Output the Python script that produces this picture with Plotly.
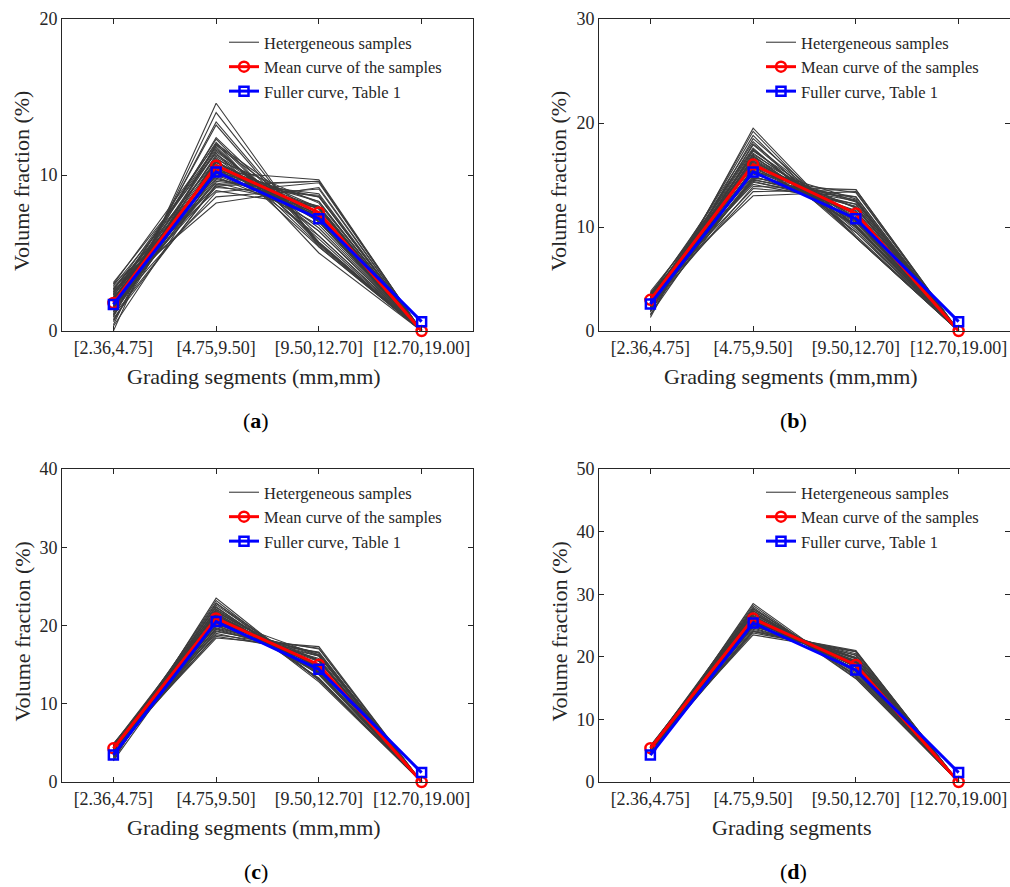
import plotly.graph_objects as go

categories = ["[2.36,4.75]", "[4.75,9.50]", "[9.50,12.70]", "[12.70,19.00]"]
xpos = [0, 1, 2, 3]

# ---------- panel (a) ----------
samples_a = [
    [0.0, 14.6, 5.4, 0], [0.4, 14.0, 5.6, 0], [0.9, 13.4, 5.7, 0], [1.2, 13.2, 5.6, 0],
    [1.5, 12.4, 6.1, 0], [2.2, 12.1, 5.7, 0], [1.0, 11.9, 7.0, 0], [2.6, 11.8, 5.5, 0],
    [1.9, 11.6, 6.4, 0], [3.1, 11.4, 5.4, 0], [1.4, 11.3, 7.2, 0], [2.4, 11.1, 6.4, 0],
    [0.7, 11.0, 8.2, 0], [2.9, 10.9, 6.1, 0], [1.7, 10.8, 7.4, 0], [2.1, 10.6, 7.2, 0],
    [1.1, 10.5, 8.3, 0], [2.7, 10.4, 6.8, 0], [1.8, 10.3, 7.8, 0], [2.3, 10.1, 7.5, 0],
    [1.3, 10.0, 8.6, 0], [2.8, 9.9, 7.2, 0], [1.6, 9.7, 8.6, 0], [2.5, 9.5, 7.9, 0],
    [0.8, 9.4, 9.6, 0], [2.0, 9.2, 8.7, 0], [3.0, 9.0, 7.9, 0], [1.5, 8.9, 9.5, 0],
    [2.2, 8.6, 9.1, 0], [2.6, 8.2, 9.2, 0], [3.0, 12.0, 5.0, 0], [0.3, 10.2, 9.7, 0],
    [1.9, 10.7, 7.3, 0], [1.6, 10.4, 7.9, 0], [2.0, 10.9, 7.0, 0], [1.7, 11.2, 7.0, 0],
    [2.3, 10.5, 7.1, 0], [1.4, 10.2, 8.3, 0], [2.1, 9.8, 8.0, 0], [1.8, 11.5, 6.6, 0],
    [2.5, 10.0, 7.4, 0], [1.2, 10.8, 7.9, 0], [2.4, 11.7, 5.9, 0], [1.5, 9.6, 8.8, 0],
    [2.0, 12.3, 5.6, 0], [0.6, 12.0, 7.3, 0], [2.7, 9.3, 8.0, 0], [1.0, 9.3, 9.6, 0],
]
mean_a = [1.8, 10.6, 7.6, 0.0]
fuller_a = [1.7, 10.2, 7.2, 0.6]

# ---------- panel (b) ----------
samples_b = [
    [1.3, 19.5, 9.2, 0], [1.8, 19.2, 9.0, 0], [2.2, 18.8, 9.0, 0], [1.5, 18.5, 10.0, 0],
    [2.9, 18.2, 9.0, 0], [2.4, 17.9, 9.7, 0], [3.4, 17.6, 9.0, 0], [1.9, 17.3, 10.8, 0],
    [2.7, 17.1, 10.2, 0], [3.6, 16.9, 9.5, 0], [2.1, 16.7, 11.2, 0], [3.1, 16.5, 10.4, 0],
    [2.5, 16.3, 11.2, 0], [3.8, 16.1, 10.1, 0], [2.8, 15.9, 11.3, 0], [1.6, 15.7, 12.7, 0],
    [3.3, 15.5, 11.2, 0], [2.3, 15.3, 12.4, 0], [3.0, 15.1, 11.9, 0], [3.5, 14.9, 11.6, 0],
    [2.0, 14.7, 13.3, 0], [2.6, 14.5, 12.9, 0], [3.2, 14.3, 12.5, 0], [3.7, 14.1, 12.2, 0],
    [2.4, 13.9, 13.6, 0], [3.4, 13.7, 12.9, 0], [2.9, 13.4, 13.6, 0], [3.6, 13.0, 13.4, 0],
    [2.2, 16.0, 11.8, 0], [3.0, 17.5, 9.5, 0],
    [2.8, 16.2, 11.0, 0], [2.5, 15.6, 11.9, 0], [3.1, 16.8, 10.1, 0], [2.3, 17.0, 10.7, 0],
    [3.3, 15.2, 11.5, 0], [2.6, 14.8, 12.6, 0], [3.0, 16.4, 10.6, 0], [2.1, 15.4, 12.5, 0],
    [3.5, 15.8, 10.7, 0], [2.7, 17.4, 9.9, 0], [3.2, 14.6, 12.2, 0], [1.9, 18.0, 10.1, 0],
    [3.6, 14.4, 12.0, 0], [2.9, 16.6, 10.5, 0],
]
mean_b = [3.0, 16.0, 11.3, 0.0]
fuller_b = [2.6, 15.3, 10.8, 0.9]

# ---------- panel (c) ----------
samples_c = [
    [2.8, 23.5, 13.1, 0], [3.3, 23.2, 13.0, 0], [3.9, 22.9, 12.8, 0], [3.0, 22.6, 13.9, 0],
    [4.4, 22.4, 13.2, 0], [3.5, 22.1, 14.0, 0], [4.8, 21.9, 13.3, 0], [3.1, 21.7, 14.8, 0],
    [4.1, 21.5, 14.2, 0], [3.7, 21.3, 14.7, 0], [4.6, 21.1, 14.1, 0], [3.2, 20.9, 15.6, 0],
    [4.2, 20.7, 14.9, 0], [3.8, 20.5, 15.5, 0], [4.9, 20.3, 14.6, 0], [3.4, 20.1, 16.3, 0],
    [4.3, 19.9, 15.6, 0], [3.6, 19.7, 16.5, 0], [4.5, 19.5, 15.8, 0], [4.0, 19.3, 16.5, 0],
    [4.7, 19.0, 16.1, 0], [3.9, 18.8, 17.1, 0], [4.6, 18.6, 16.6, 0], [4.4, 18.4, 17.3, 0],
    [2.7, 21.0, 16.2, 0], [4.1, 22.0, 13.9, 0],
    [4.2, 21.2, 14.6, 0], [3.9, 20.6, 15.5, 0], [4.4, 20.8, 14.8, 0], [3.7, 21.8, 14.5, 0],
    [4.6, 20.0, 15.4, 0], [4.0, 22.3, 13.7, 0], [3.5, 20.4, 16.1, 0], [4.8, 21.4, 13.8, 0],
    [4.3, 19.6, 16.1, 0], [3.3, 22.8, 13.9, 0], [4.5, 21.6, 13.9, 0], [3.8, 19.2, 17.0, 0],
]
mean_c = [4.3, 20.9, 15.0, 0.0]
fuller_c = [3.45, 20.5, 14.4, 1.2]

# ---------- panel (d) ----------
samples_d = [
    [4.6, 28.5, 16.8, 0], [5.0, 28.2, 16.6, 0], [5.5, 27.9, 16.5, 0], [4.7, 27.6, 17.6, 0],
    [5.2, 27.3, 17.4, 0], [5.7, 27.0, 17.2, 0], [4.8, 26.8, 18.3, 0], [5.3, 26.6, 18.0, 0],
    [5.8, 26.4, 17.7, 0], [4.9, 26.2, 18.8, 0], [5.4, 26.0, 18.5, 0], [5.1, 25.8, 19.0, 0],
    [5.6, 25.6, 18.7, 0], [4.6, 25.4, 19.9, 0], [5.3, 25.2, 19.4, 0], [5.7, 25.0, 19.2, 0],
    [4.9, 24.8, 20.2, 0], [5.4, 24.6, 19.9, 0], [5.0, 24.4, 20.5, 0], [5.5, 24.1, 20.3, 0],
    [5.2, 23.8, 20.9, 0], [5.6, 23.5, 20.8, 0], [4.8, 24.0, 21.0, 0], [5.1, 26.9, 17.9, 0],
    [5.3, 26.3, 18.4, 0], [5.0, 25.7, 19.3, 0], [5.5, 26.5, 18.0, 0], [5.2, 25.1, 19.7, 0],
    [5.6, 27.4, 17.0, 0], [4.9, 26.0, 19.1, 0], [5.4, 24.9, 19.7, 0], [5.1, 27.1, 17.8, 0],
    [5.7, 25.9, 18.4, 0], [5.0, 24.2, 20.8, 0], [5.3, 27.7, 17.0, 0], [4.7, 25.5, 19.8, 0],
]
mean_d = [5.4, 26.1, 18.7, 0.0]
fuller_d = [4.3, 25.4, 17.9, 1.5]

y_max = [20, 30, 40, 50]
x_titles = ["Grading segments (mm,mm)", "Grading segments (mm,mm)",
            "Grading segments (mm,mm)", "Grading segments"]
y_title = "Volume fraction (%)"
captions = ["a", "b", "c", "d"]
legend_names = ["Hetergeneous samples", "Mean curve of the samples", "Fuller curve, Table 1"]

W, H = 1010, 887
TXT = "#262626"
FONT = "Liberation Serif"

# pixel layout of the four axes boxes: (left, right, top, bottom)
boxes = [(62, 473, 19, 331), (599, 1010, 19, 331), (62, 473, 469, 782), (599, 1010, 469, 782)]

fig = go.Figure()
panels = [(samples_a, mean_a, fuller_a), (samples_b, mean_b, fuller_b),
          (samples_c, mean_c, fuller_c), (samples_d, mean_d, fuller_d)]

annotations = []
for i, (samples, mean, fuller) in enumerate(panels):
    ax = "" if i == 0 else str(i + 1)
    xa, ya = "x" + ax, "y" + ax
    lg = "legend" + ax
    for j, s in enumerate(samples):
        fig.add_trace(go.Scatter(
            x=xpos, y=s, mode="lines", xaxis=xa, yaxis=ya,
            line=dict(color="#3c3c3c", width=1.1),
            name=legend_names[0], showlegend=(j == 0), legend=lg, hoverinfo="skip"))
    fig.add_trace(go.Scatter(
        x=xpos, y=mean, mode="lines+markers", xaxis=xa, yaxis=ya, cliponaxis=False,
        line=dict(color="#ff0000", width=3),
        marker=dict(symbol="circle-open", size=10, color="#ff0000", line=dict(width=2.5)),
        name=legend_names[1], legend=lg))
    fig.add_trace(go.Scatter(
        x=xpos, y=fuller, mode="lines+markers", xaxis=xa, yaxis=ya, cliponaxis=False,
        line=dict(color="#0000ff", width=3),
        marker=dict(symbol="square-open", size=9, color="#0000ff", line=dict(width=2.5)),
        name=legend_names[2], legend=lg))

    l, r, t, b = boxes[i]
    xdom = [l / W, min(r / W, 1.0)]
    ydom = [1 - b / H, 1 - t / H]
    axis_common = dict(showline=True, linecolor=TXT, linewidth=1, mirror="ticks",
                       ticks="inside", ticklen=5, tickcolor=TXT, showgrid=False,
                       zeroline=False, automargin=False,
                       tickfont=dict(family=FONT, size=18, color=TXT))
    fig.update_layout(**{
        "xaxis" + ax: dict(domain=xdom, range=[-0.5, 3.5], tickvals=xpos,
                           ticktext=categories, anchor=ya, **axis_common),
        "yaxis" + ax: dict(domain=ydom, range=[0, y_max[i]], dtick=10,
                           anchor=xa, **axis_common),
        lg: dict(x=(l + 162) / W, y=1 - (t + 6) / H, xanchor="left", yanchor="top",
                 bgcolor="rgba(0,0,0,0)", borderwidth=0,
                 font=dict(family=FONT, size=16.5, color=TXT),
                 tracegroupgap=0, itemwidth=30),
    })

    xc = l + 192
    annotations.append(dict(text=x_titles[i], x=xc / W, y=1 - (b + 45) / H,
                            xanchor="center", yanchor="middle",
                            xref="paper", yref="paper", showarrow=False,
                            font=dict(family=FONT, size=22, color=TXT)))
    annotations.append(dict(text=y_title, x=(l - 40) / W, y=1 - ((t + b) / 2 + 6) / H,
                            xanchor="center", yanchor="middle",
                            xref="paper", yref="paper", showarrow=False, textangle=-90,
                            font=dict(family=FONT, size=22, color=TXT)))
    annotations.append(dict(text="(<b>" + captions[i] + "</b>)", x=(l + 194) / W,
                            y=1 - (b + 89) / H, xanchor="center", yanchor="middle",
                            xref="paper", yref="paper", showarrow=False,
                            font=dict(family=FONT, size=22, color="#000000")))

fig.update_layout(width=W, height=H, margin=dict(l=0, r=0, t=0, b=0),
                  paper_bgcolor="white", plot_bgcolor="white",
                  annotations=annotations, showlegend=True)

fig.write_html("out.html")
